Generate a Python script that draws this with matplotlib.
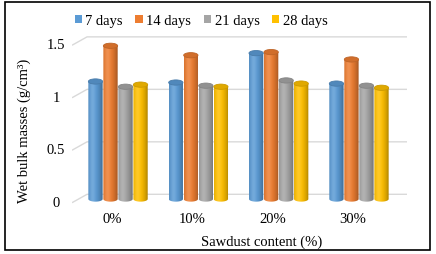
import numpy as np
import matplotlib.pyplot as plt
from matplotlib.patches import Ellipse, PathPatch, Rectangle, Patch
from matplotlib.path import Path
from matplotlib.colors import to_rgb

plt.rcParams['font.family'] = ['Liberation Serif', 'DejaVu Serif']
plt.rcParams['font.size'] = 10.5

# data
categories = ['0%', '10%', '20%', '30%']
series = ['7 days', '14 days', '21 days', '28 days']
day7 = [1.12, 1.11, 1.39, 1.10]
day14 = [1.46, 1.37, 1.40, 1.33]
day21 = [1.07, 1.08, 1.13, 1.08]
day28 = [1.09, 1.07, 1.10, 1.06]
colors = ['#5B9BD5', '#ED7D31', '#A5A5A5', '#FFC000']
yticks = [0, 0.5, 1, 1.5]
ytick_labels = ['0', '0.5', '1', '1.5']

W, H = 436, 255
fig = plt.figure(figsize=(W / 100, H / 100), dpi=100)
left, right, top, bottom = 72, 407, 30, 210
ax = fig.add_axes([left / W, 1 - bottom / H, (right - left) / W, (bottom - top) / H])
ax.axis('off')
xmin, xmax = -0.573, 3.598
ymin, ymax = -0.095, 1.62

# 3D-ish gridlines: slanted floor edge then back wall
back_x = -0.386
for v, lab in zip(yticks, ytick_labels):
    ax.plot([xmin, back_x, xmax], [v - 0.035, v + 0.045, v + 0.045],
            color='#D9D9D9', lw=1, zorder=0, solid_capstyle='butt')
    ax.text(xmin - 0.2, v - 0.03, lab, ha='center', va='center', clip_on=False)

# cylinders
bar_w = 0.178
step = 0.187
eh = 0.05
t = np.linspace(0, 1, 60)


def cylinder(xc, val, col):
    base = np.array(to_rgb(col))
    k = 1 - 0.32 * ((t - 0.35) / 0.65) ** 2
    hi = 0.15 * np.exp(-((t - 0.3) / 0.2) ** 2)
    rgb = base[None, :] * k[:, None] + (1 - base[None, :]) * hi[:, None]
    img = np.clip(rgb[None, :, :], 0, 1)
    x0, x1 = xc - bar_w / 2, xc + bar_w / 2
    th = np.linspace(np.pi, 2 * np.pi, 30)
    arc = np.column_stack([xc + bar_w / 2 * np.cos(th), eh / 2 * np.sin(th)])
    verts = np.vstack([[x0, val], arc, [x1, val], [x0, val]])
    codes = [Path.MOVETO] + [Path.LINETO] * (len(verts) - 2) + [Path.CLOSEPOLY]
    shape = PathPatch(Path(verts, codes), facecolor='none', edgecolor='none')
    ax.add_patch(shape)
    im = ax.imshow(img, extent=[x0, x1, -eh / 2, val], aspect='auto',
                   interpolation='bilinear', zorder=2)
    im.set_clip_path(shape)
    dark = base * 0.8
    ax.add_patch(Ellipse((xc, val), bar_w, eh, facecolor=np.clip(base * 0.88, 0, 1),
                         edgecolor=dark, lw=0.6, zorder=3))


all_series = [day7, day14, day21, day28]
for j, vals in enumerate(all_series):
    for i, v in enumerate(vals):
        cylinder(i + (j - 1.5) * step, v, colors[j])

for i, c in enumerate(categories):
    ax.text(i - 0.075, -0.19, c, ha='center', va='center', clip_on=False)

ax.set_xlim(xmin, xmax)
ax.set_ylim(ymin, ymax)

fig.text(262 / W, 1 - 242 / H, 'Sawdust content (%)', ha='center', va='center')
fig.text(24 / W, 1 - 131 / H, 'Wet bulk masses (g/cm³)', ha='center', va='center',
         rotation=90)

handles = [Patch(facecolor=c, edgecolor='none') for c in colors]
fig.legend(handles, series, loc='center', bbox_to_anchor=(201 / W, 1 - 22 / H), ncol=4,
           frameon=False, handlelength=0.5, handleheight=0.5, handletextpad=0.25,
           columnspacing=0.85, borderpad=0)

fig.add_artist(Rectangle((5 / W, 1 - 251 / H), 425 / W, 248 / H, transform=fig.transFigure,
                         fill=False, edgecolor='black', lw=1.2))

fig.savefig('out.png', dpi=100)
